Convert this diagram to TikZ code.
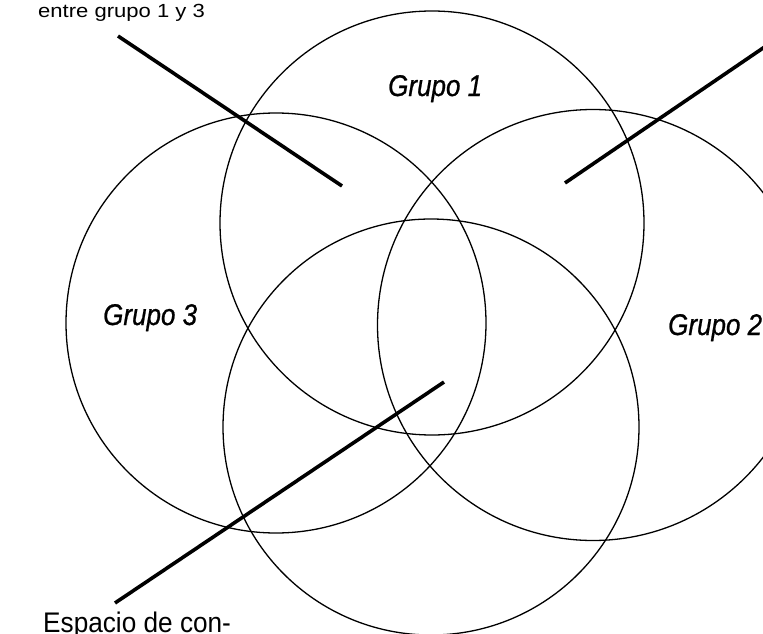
\documentclass[tikz,border=0pt]{standalone}
\usepackage{fontspec}
\setmainfont{Liberation Sans}
\newfontfamily\grpfont[FakeBold=0.8]{Liberation Sans}
\begin{document}
\begin{tikzpicture}[x=1pt,y=-1pt,
  ring/.style={circle, draw=black, line width=1.3pt, inner sep=0pt},
  pointer/.style={draw=black, line width=3.6pt},
  grp/.style={anchor=base west, inner sep=0pt, font=\grpfont\fontsize{26}{30}\selectfont\itshape},
  note/.style={anchor=base west, inner sep=0pt}]
\useasboundingbox (0,0) rectangle (763,634);
\clip (0,0) rectangle (763,634);
% circles
\node[ring, minimum size=424pt] (c1) at (432,223) {};
\node[ring, minimum size=420pt] (c3) at (276,323) {};
\node[ring, minimum size=431pt] (c2) at (593,325) {};
\node[ring, minimum size=416pt] (c4) at (431,427) {};
% labels
\node[grp] (l1) at (388,96) {\scalebox{1}[1.15]{Grupo 1}};
\node[grp] (l3) at (103,325) {\scalebox{1}[1.15]{Grupo 3}};
\node[grp] (l2) at (668,335) {\scalebox{1}[1.15]{Grupo 2}};
\node[note, font=\fontsize{19}{22}\selectfont] (t1) at (38,18) {\scalebox{1.16}[1]{entre grupo 1 y 3}};
\node[note, font=\fontsize{27}{30}\selectfont] (t2) at (43,632) {\scalebox{0.97}[1.05]{Espacio de con-}};
% pointer lines
\coordinate (a1) at (118,36);
\coordinate (a2) at (342,186);
\coordinate (b1) at (766,46);
\coordinate (b2) at (565,183);
\coordinate (d1) at (115,603);
\coordinate (d2) at (444,382);
\draw[pointer] (a1) -- (a2);
\draw[pointer] (b1) -- (b2);
\draw[pointer] (d1) -- (d2);
\end{tikzpicture}
\end{document}
